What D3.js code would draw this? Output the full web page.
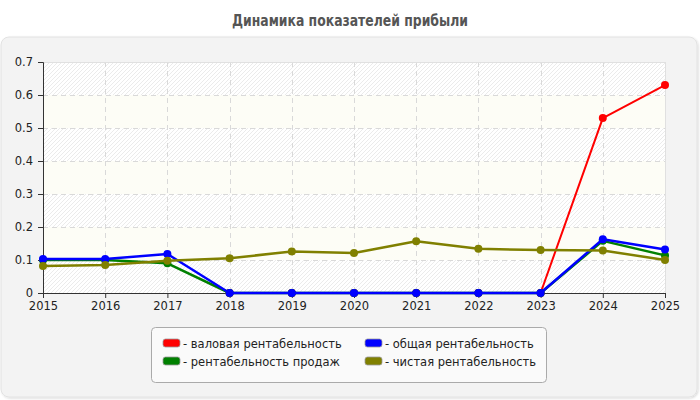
<!DOCTYPE html>
<html>
<head>
<meta charset="utf-8">
<script src="https://cdn.jsdelivr.net/npm/d3@7"></script>
<style>
  body { margin: 0; background: #fff; }
  svg { display: block; }
  .title { font-family: "Liberation Sans Narrow", "DejaVu Sans Condensed", "Liberation Sans", sans-serif; font-weight: bold; font-size: 16px; fill: #555; }
  .tick text { font-family: "DejaVu Sans", sans-serif; font-size: 11.5px; fill: #222; }
  .legend-text { font-family: "DejaVu Sans", sans-serif; font-size: 11.5px; fill: #222; }
</style>
</head>
<body>
<svg id="chart"></svg>
<script>
const years = [2015, 2016, 2017, 2018, 2019, 2020, 2021, 2022, 2023, 2024, 2025];
const yTicks = [0, 0.1, 0.2, 0.3, 0.4, 0.5, 0.6, 0.7];

const grossLabel = "- валовая рентабельность";
const grossValues = [null, null, null, 0, 0, 0, 0, 0, 0, 0.53, 0.63];

const salesLabel = "- рентабельность продаж";
const salesValues = [0.1, 0.1, 0.09, 0, 0, 0, 0, 0, 0, 0.158, 0.114];

const totalLabel = "- общая рентабельность";
const totalValues = [0.103, 0.103, 0.118, 0, 0, 0, 0, 0, 0, 0.163, 0.132];

const netLabel = "- чистая рентабельность";
const netValues = [0.082, 0.085, 0.098, 0.105, 0.126, 0.121, 0.157, 0.134, 0.13, 0.129, 0.1];

const titleText = "Динамика показателей прибыли";

// drawing order: red, green, blue, olive
const series = [
  { label: grossLabel, values: grossValues, color: "#ff0000", width: 2 },
  { label: salesLabel, values: salesValues, color: "#008000", width: 2.5 },
  { label: totalLabel, values: totalValues, color: "#0000ff", width: 2.5 },
  { label: netLabel,   values: netValues,   color: "#808000", width: 2.5 },
];
// legend order: two columns
const legendOrder = [series[0], series[2], series[1], series[3]];

const W = 700, H = 400;
const plot = { left: 43, right: 665, top: 62, bottom: 293 };

const svg = d3.select("#chart").attr("width", W).attr("height", H);
const defs = svg.append("defs");

const hatch = defs.append("pattern")
  .attr("id", "hatch").attr("patternUnits", "userSpaceOnUse")
  .attr("width", 4).attr("height", 4);
hatch.append("rect").attr("width", 4).attr("height", 4).attr("fill", "#ffffff");
hatch.append("path").attr("d", "M-1,1 L1,-1 M0,4 L4,0 M3,5 L5,3")
  .attr("stroke", "#ebebeb").attr("stroke-width", 1);

const shadow = defs.append("filter").attr("id", "shadow")
  .attr("x", "-5%").attr("y", "-5%").attr("width", "110%").attr("height", "110%");
shadow.append("feDropShadow").attr("dx", 1).attr("dy", 1).attr("stdDeviation", 0.8)
  .attr("flood-color", "#000").attr("flood-opacity", 0.15);

// title
svg.append("text").attr("class", "title")
  .attr("x", 350).attr("y", 26).attr("text-anchor", "middle")
  .attr("textLength", 236).attr("lengthAdjust", "spacingAndGlyphs")
  .text(titleText);

// panel
svg.append("rect")
  .attr("x", 1).attr("y", 37).attr("width", 696).attr("height", 360)
  .attr("rx", 8).attr("fill", "#f3f3f3").attr("stroke", "#e2e2e2")
  .attr("filter", "url(#shadow)");

const x = d3.scalePoint().domain(years).range([plot.left, plot.right]);
const y = d3.scaleLinear().domain([0, 0.7]).range([plot.bottom, plot.top]);

// alternating bands
const bands = d3.range(yTicks.length - 1).map(i => [yTicks[i], yTicks[i + 1]]);
svg.append("g").selectAll("rect").data(bands).join("rect")
  .attr("x", plot.left).attr("width", plot.right - plot.left)
  .attr("y", d => y(d[1])).attr("height", d => y(d[0]) - y(d[1]))
  .attr("fill", (d, i) => i % 2 === 0 ? "url(#hatch)" : "#fdfdf6");

// grid
const grid = svg.append("g")
  .attr("stroke", "#d9d9d9").attr("stroke-dasharray", "5,4").attr("stroke-width", 1);
grid.selectAll(".hg").data(yTicks.slice(1)).join("line")
  .attr("x1", plot.left).attr("x2", plot.right)
  .attr("y1", d => Math.round(y(d)) + 0.5).attr("y2", d => Math.round(y(d)) + 0.5);
grid.selectAll(".vg").data(years.slice(1)).join("line")
  .attr("x1", d => Math.round(x(d)) + 0.5).attr("x2", d => Math.round(x(d)) + 0.5)
  .attr("y1", plot.top).attr("y2", plot.bottom);

svg.append("line")
  .attr("x1", plot.left).attr("x2", plot.right)
  .attr("y1", plot.top + 0.5).attr("y2", plot.top + 0.5)
  .attr("stroke", "#e0e0e0");
svg.append("line")
  .attr("x1", plot.right + 0.5).attr("x2", plot.right + 0.5)
  .attr("y1", plot.top).attr("y2", plot.bottom)
  .attr("stroke", "#e0e0e0");

// axes
const yAxis = svg.append("g")
  .attr("transform", `translate(${plot.left},0)`)
  .call(d3.axisLeft(y).tickValues(yTicks).tickSize(5).tickPadding(5)
    .tickFormat(d => d === 0 ? "0" : d3.format(".1f")(d)));
const xAxis = svg.append("g")
  .attr("transform", `translate(0,${plot.bottom})`)
  .call(d3.axisBottom(x).tickSize(5).tickPadding(4).tickFormat(d3.format("d")));
[yAxis, xAxis].forEach(a => {
  a.select(".domain").attr("stroke", "#333");
  a.selectAll(".tick line").attr("stroke", "#333");
});

// lines
const line = d3.line()
  .defined(d => d != null)
  .x((d, i) => x(years[i]))
  .y(d => y(d));

series.forEach(s => {
  const g = svg.append("g");
  g.append("path").datum(s.values)
    .attr("d", line)
    .attr("fill", "none").attr("stroke", s.color)
    .attr("stroke-width", s.width).attr("stroke-linejoin", "round");
  g.selectAll("circle")
    .data(s.values.map((v, i) => ({ v, year: years[i] })).filter(d => d.v != null))
    .join("circle")
    .attr("cx", d => x(d.year)).attr("cy", d => y(d.v))
    .attr("r", 4).attr("fill", s.color);
});

// legend
const lg = svg.append("g");
lg.append("rect")
  .attr("x", 151.5).attr("y", 327.5).attr("width", 395).attr("height", 55)
  .attr("rx", 4).attr("fill", "#fafafa").attr("stroke", "#aaa");

legendOrder.forEach((s, i) => {
  const col = i % 2, row = Math.floor(i / 2);
  const lx = 163 + col * 202, ly = 339 + row * 18;
  lg.append("rect")
    .attr("x", lx).attr("y", ly).attr("width", 17).attr("height", 8)
    .attr("rx", 2.5).attr("fill", s.color).attr("stroke", "#999").attr("stroke-width", 0.8);
  lg.append("text").attr("class", "legend-text")
    .attr("x", lx + 20).attr("y", ly + 8.5)
    .text(s.label);
});
</script>
</body>
</html>
